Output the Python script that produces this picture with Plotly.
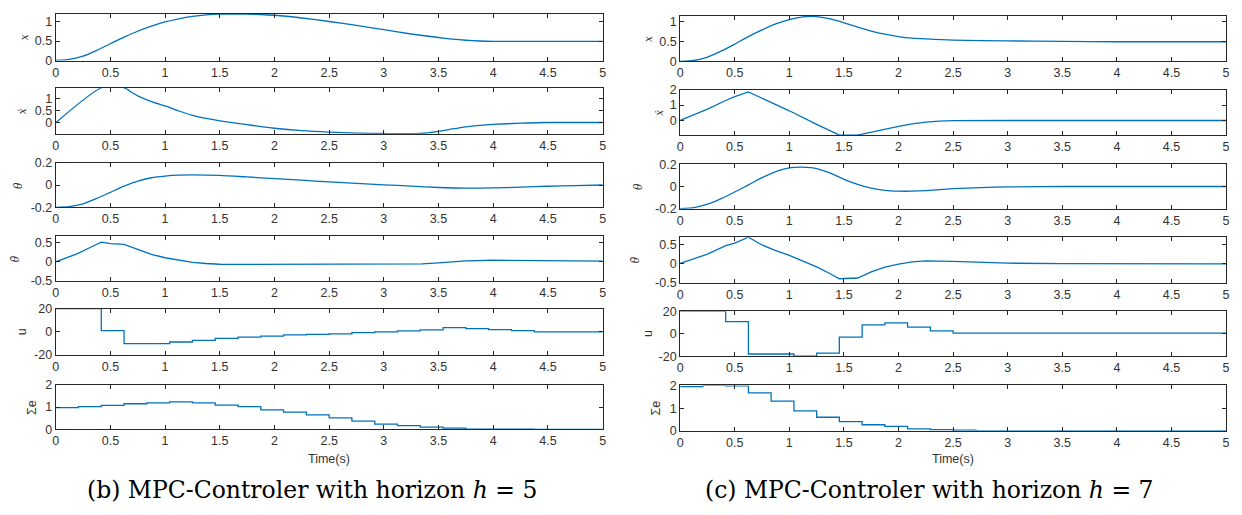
import plotly.graph_objects as go

W, H = 1242, 515

# ---------------- data: horizon h = 5 ----------------
h5_t_x = [0, 0.125, 0.25, 0.375, 0.5, 0.625, 0.75, 0.875, 1.0, 1.125, 1.25, 1.375, 1.5, 1.625, 1.75,
          1.875, 2.0, 2.25, 2.5, 2.75, 3.0, 3.25, 3.5, 3.625, 3.75, 3.875, 4.0, 4.5, 5.0]
h5_x = [0, 0.03, 0.11, 0.26, 0.43, 0.60, 0.75, 0.88, 0.99, 1.07, 1.13, 1.17, 1.19, 1.19, 1.19,
        1.18, 1.16, 1.09, 1.0, 0.9, 0.79, 0.68, 0.59, 0.55, 0.52, 0.50, 0.49, 0.49, 0.49]

h5_t_xd = [0, 0.417, 0.625, 0.7, 0.75, 0.875, 1.0, 1.125, 1.25, 1.375, 1.5, 1.75, 2.0, 2.25, 2.5,
           2.75, 3.0, 3.33, 3.5, 3.625, 3.75, 3.875, 4.0, 4.25, 4.5, 5.0]
h5_xd = [0, 1.46, 1.46, 1.25, 1.12, 0.88, 0.70, 0.49, 0.31, 0.18, 0.08, -0.08, -0.23, -0.33, -0.39,
         -0.43, -0.45, -0.45, -0.36, -0.26, -0.17, -0.11, -0.07, -0.02, 0.01, 0.01]

h5_t_th = [0, 0.125, 0.25, 0.375, 0.5, 0.625, 0.75, 0.875, 1.0, 1.125, 1.25, 1.5, 1.75, 2.0, 2.25,
           2.5, 2.75, 3.0, 3.25, 3.5, 3.75, 4.0, 4.25, 4.5, 4.75, 5.0]
h5_th = [-0.2, -0.193, -0.168, -0.12, -0.065, -0.01, 0.035, 0.065, 0.08, 0.088, 0.09, 0.086, 0.072,
         0.057, 0.043, 0.028, 0.014, 0.002, -0.01, -0.022, -0.028, -0.026, -0.019, -0.011, -0.005, 0.0]

h5_t_thd = [0, 0.1, 0.2, 0.3, 0.417, 0.5, 0.625, 0.75, 0.875, 1.0, 1.125, 1.25, 1.375, 1.5, 1.75,
            2.0, 2.5, 3.0, 3.35, 3.5, 3.625, 3.75, 4.0, 4.5, 5.0]
h5_thd = [0.0, 0.1, 0.22, 0.36, 0.52, 0.48, 0.46, 0.33, 0.2, 0.11, 0.04, -0.01, -0.04, -0.06, -0.065,
          -0.062, -0.05, -0.048, -0.05, -0.025, 0.0, 0.03, 0.045, 0.04, 0.02]

# ---------------- data: horizon h = 7 ----------------
h7_t_x = [0, 0.125, 0.25, 0.375, 0.5, 0.625, 0.75, 0.875, 1.0, 1.125, 1.2, 1.25, 1.375, 1.5, 1.625,
          1.75, 1.875, 2.0, 2.125, 2.25, 2.5, 3.0, 3.5, 4.0, 5.0]
h7_x = [0, 0.025, 0.11, 0.26, 0.44, 0.63, 0.80, 0.95, 1.06, 1.13, 1.14, 1.135, 1.08, 0.98, 0.87,
        0.77, 0.69, 0.63, 0.59, 0.57, 0.54, 0.52, 0.51, 0.50, 0.50]

h7_t_xd = [0, 0.125, 0.25, 0.417, 0.5, 0.625, 1.0, 1.25, 1.458, 1.625, 1.75, 1.875, 2.0, 2.125,
           2.25, 2.375, 2.5, 3.0, 5.0]
h7_xd = [0, 0.37, 0.74, 1.30, 1.55, 1.85, 0.63, -0.25, -0.95, -0.95, -0.75, -0.55, -0.38, -0.22,
         -0.10, -0.04, -0.01, 0.0, 0.0]

h7_t_th = [0, 0.125, 0.25, 0.375, 0.5, 0.625, 0.75, 0.875, 1.0, 1.1, 1.2, 1.25, 1.375, 1.5, 1.625,
           1.75, 1.875, 2.0, 2.125, 2.25, 2.5, 2.75, 3.0, 3.5, 5.0]
h7_th = [-0.2, -0.19, -0.16, -0.11, -0.05, 0.015, 0.08, 0.135, 0.168, 0.175, 0.17, 0.162, 0.12, 0.065,
         0.02, -0.015, -0.035, -0.042, -0.042, -0.037, -0.02, -0.01, -0.004, 0.0, 0.0]

h7_t_thd = [0, 0.125, 0.25, 0.417, 0.5, 0.625, 0.75, 0.875, 1.0, 1.125, 1.25, 1.375, 1.458, 1.625,
            1.75, 1.875, 2.0, 2.125, 2.25, 2.5, 2.75, 3.0, 3.5, 5.0]
h7_thd = [0, 0.12, 0.24, 0.46, 0.53, 0.68, 0.48, 0.33, 0.21, 0.06, -0.09, -0.27, -0.40, -0.38,
          -0.22, -0.10, -0.02, 0.04, 0.065, 0.05, 0.02, 0.005, -0.005, -0.01]

# ---------------- piecewise-constant signals (sample period 5/24 s) ----------------
step_t = [0, 0.208, 0.417, 0.625, 0.833, 1.042, 1.25, 1.458, 1.667, 1.875, 2.083, 2.292,
          2.5, 2.708, 2.917, 3.125, 3.333, 3.542, 3.75, 3.958, 4.167, 4.375, 4.583, 4.792, 5.0]

h5_u = [20, 20, 1.0, -10.2, -10.2, -8.8, -7.4, -5.7, -4.6, -3.8, -2.6, -2.3,
        -1.8, -0.7, -0.1, 0.7, 1.6, 3.5, 2.7, 1.8, 1.0, -0.1, -0.1, -0.1, -0.1]
h5_e = [0.98, 1.02, 1.08, 1.15, 1.19, 1.23, 1.19, 1.09, 1.02, 0.88, 0.78, 0.65,
        0.52, 0.37, 0.24, 0.17, 0.11, 0.06, 0.015, 0.015, 0.015, 0, 0, 0, 0]

h7_u = [20, 20, 10.8, -18, -18, -20, -17.2, -3.0, 7.9, 9.6, 5.9, 2.6,
        0.5, 0.5, 0.5, 0.5, 0.5, 0.5, 0.5, 0.5, 0.5, 0.5, 0.5, 0.5, 0.5]
h7_e = [1.95, 2.0, 1.98, 1.67, 1.31, 0.88, 0.60, 0.41, 0.27, 0.20, 0.09, 0.05,
        0.03, 0, 0, 0, 0, 0, 0, 0, 0, 0, 0, 0, 0]

time_ticks = [0, 0.5, 1, 1.5, 2, 2.5, 3, 3.5, 4, 4.5, 5]

ylabels = ["<i>x</i>", "<i>ẋ</i>", "<i>θ</i>", "<i>θ̇</i>", "u", "Σe"]
captions = ["(b) MPC-Controler with horizon <i>h</i> = 5",
            "(c) MPC-Controler with horizon <i>h</i> = 7"]

# each column: list of (t, y, shape, yrange, yticks)
columns = [
    [
        (h5_t_x, h5_x, "spline", [0, 1.19], [0, 0.5, 1]),
        (h5_t_xd, h5_xd, "spline", [-0.46, 1.46], [0, 0.5, 1]),
        (h5_t_th, h5_th, "spline", [-0.2, 0.2], [-0.2, 0, 0.2]),
        (h5_t_thd, h5_thd, "linear", [-0.5, 0.69], [-0.5, 0, 0.5]),
        (step_t, h5_u, "hv", [-20, 20], [-20, 0, 20]),
        (step_t, h5_e, "hv", [0, 2], [0, 1, 2]),
    ],
    [
        (h7_t_x, h7_x, "spline", [0, 1.15], [0, 0.5, 1]),
        (h7_t_xd, h7_xd, "linear", [-0.95, 2], [0, 1, 2]),
        (h7_t_th, h7_th, "spline", [-0.2, 0.2], [-0.2, 0, 0.2]),
        (h7_t_thd, h7_thd, "linear", [-0.5, 0.68], [-0.5, 0, 0.5]),
        (step_t, h7_u, "hv", [-20, 20], [-20, 0, 20]),
        (step_t, h7_e, "hv", [0, 2], [0, 1, 2]),
    ],
]

# pixel geometry of the panels
col_px = [(53, 603), (681, 1230)]
row_px = [
    [(7.3, 55), (83, 130.3), (160, 206), (235, 281.7), (310, 357.7), (388.3, 434.3)],
    [(9.3, 56), (85, 131.7), (161.7, 207.3), (236.7, 283.3), (312.7, 359), (389, 435.7)],
]
ylabel_px = [[21, 18.5, 15, 12, 18.5, 29], [648, 660, 639, 636, 648, 657]]

AX = "#262626"
TXT = "#333333"
LINE = "#0072BD"
SANS = "Liberation Sans, Arial, sans-serif"
SERIF = "DejaVu Serif, serif"


def tick_text(v):
    # plain hyphen-minus for negative tick labels
    return ("%g" % v).replace("\u2212", "-")


fig = go.Figure()
layout = dict(
    width=W, height=H,
    margin=dict(l=0, r=0, t=0, b=0),
    paper_bgcolor="white", plot_bgcolor="white",
    showlegend=False,
    font=dict(family=SANS, size=12.5, color=TXT),
)
annotations = []

n = 0
for c, panels in enumerate(columns):
    x0, x1 = col_px[c]
    for r, (tt, yy, shape, yr, yt) in enumerate(panels):
        n += 1
        top, bot = row_px[c][r]
        sfx = "" if n == 1 else str(n)
        line = dict(color=LINE, width=1.3, shape=shape)
        if shape == "spline":
            line["smoothing"] = 0.6
        fig.add_trace(go.Scatter(x=tt, y=yy, mode="lines", line=line,
                                 xaxis="x" + sfx, yaxis="y" + sfx, hoverinfo="skip"))
        common = dict(showline=True, linecolor=AX, linewidth=1, mirror="ticks",
                      ticks="inside", ticklen=4, tickwidth=1, tickcolor=AX,
                      showgrid=False, zeroline=False,
                      tickfont=dict(family=SANS, size=12.5, color=TXT))
        layout["xaxis" + sfx] = dict(domain=[x0 / W, x1 / W], anchor="y" + sfx,
                                     range=[0, 5], tickvals=time_ticks,
                                     ticktext=[tick_text(v) for v in time_ticks], **common)
        layout["yaxis" + sfx] = dict(domain=[1 - bot / H, 1 - top / H], anchor="x" + sfx,
                                     range=yr, tickvals=yt,
                                     ticktext=[tick_text(v) for v in yt], **common)
        italic = r < 4
        annotations.append(dict(
            text=ylabels[r], xref="paper", yref="paper",
            x=ylabel_px[c][r] / W, y=1 - (top + bot) / 2 / H,
            xanchor="center", yanchor="middle", textangle=-90, showarrow=False,
            font=dict(family=SERIF if italic else SANS, size=10.5 if italic else 12.5, color=TXT)))
    annotations.append(dict(
        text="Time(s)", xref="paper", yref="paper",
        x=(x0 + x1) / 2 / W, y=1 - 465 / H, xanchor="center", yanchor="middle",
        showarrow=False, font=dict(family=SANS, size=12.5, color=TXT)))

cap_px = [311, 932]
for c in range(2):
    annotations.append(dict(
        text=captions[c], xref="paper", yref="paper",
        x=cap_px[c] / W, y=1 - 497 / H, xanchor="center", yanchor="middle",
        showarrow=False, font=dict(family=SERIF, size=23.5, color="black")))

layout["annotations"] = annotations
fig.update_layout(**layout)
fig.write_html("out.html")
